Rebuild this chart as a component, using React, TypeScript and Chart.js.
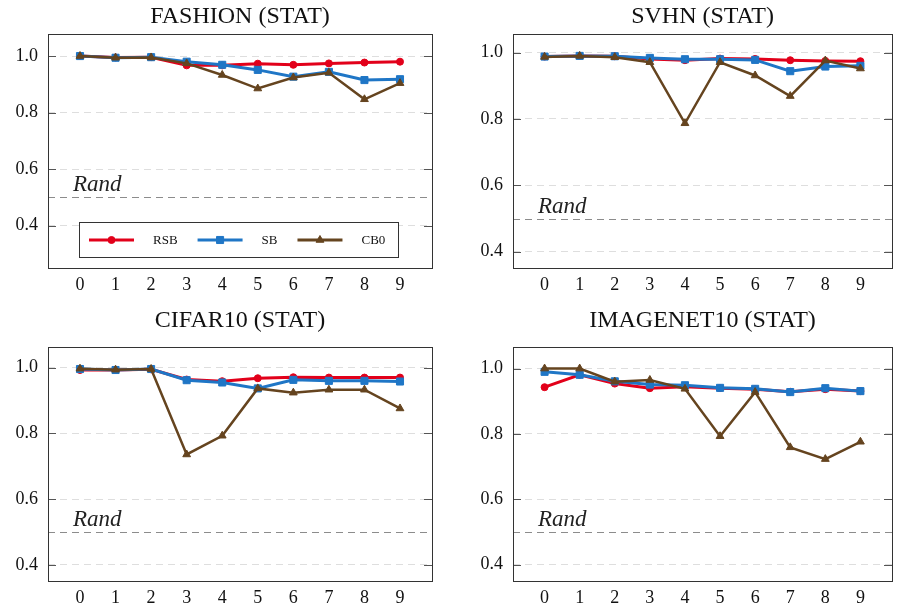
import { useEffect, useRef } from 'react';
import { Chart, registerables, Plugin } from 'chart.js';
import { drawPoint } from 'chart.js/helpers';

Chart.register(...registerables);

const FONT = '"Liberation Serif", "Times New Roman", serif';

// tick labels
const xTicks = [0, 1, 2, 3, 4, 5, 6, 7, 8, 9];
const yTicks = [0.4, 0.6, 0.8, 1.0];
const randLevel = 0.5;

const seriesNames = ['RSB', 'SB', 'CB0'];

// FASHION (STAT)
const fashionRSB = [1.0, 0.995, 0.996, 0.967, 0.967, 0.973, 0.969, 0.974, 0.977, 0.98];
const fashionSB = [1.0, 0.994, 0.996, 0.98, 0.969, 0.951, 0.927, 0.944, 0.915, 0.918];
const fashionCB0 = [1.0, 0.994, 0.995, 0.974, 0.933, 0.885, 0.924, 0.941, 0.847, 0.904];

// SVHN (STAT)
const svhnRSB = [0.988, 0.99, 0.989, 0.981, 0.977, 0.982, 0.981, 0.977, 0.975, 0.974];
const svhnSB = [0.988, 0.99, 0.989, 0.984, 0.98, 0.98, 0.978, 0.944, 0.958, 0.96];
const svhnCB0 = [0.987, 0.99, 0.986, 0.971, 0.787, 0.971, 0.931, 0.869, 0.976, 0.952];

// CIFAR10 (STAT)
const cifarRSB = [0.993, 0.993, 0.995, 0.964, 0.959, 0.968, 0.971, 0.97, 0.97, 0.97];
const cifarSB = [0.996, 0.993, 0.996, 0.962, 0.955, 0.937, 0.963, 0.96, 0.96, 0.958];
const cifarCB0 = [0.997, 0.994, 0.996, 0.736, 0.793, 0.937, 0.924, 0.933, 0.933, 0.876];

// IMAGENET10 (STAT)
const imagenetRSB = [0.943, 0.981, 0.954, 0.94, 0.944, 0.94, 0.937, 0.929, 0.937, 0.931];
const imagenetSB = [0.99, 0.981, 0.961, 0.951, 0.949, 0.941, 0.938, 0.928, 0.94, 0.931];
const imagenetCB0 = [1.0, 1.0, 0.96, 0.965, 0.938, 0.793, 0.928, 0.759, 0.723, 0.776];

const styles = [
  { color: '#e2001a', pointStyle: 'circle', radius: 3.5, width: 3, order: 3 },
  { color: '#1f76c6', pointStyle: 'rect', radius: 5, width: 3, order: 2 },
  { color: '#65441f', pointStyle: 'triangle', radius: 4.5, width: 2.5, order: 1 },
];

interface PanelDef {
  title: string;
  series: number[][];
  yMin: number;
  yMax: number;
  left: number;
  top: number;
  w: number;
  h: number;
  padTop: number;
  padRight: number;
  yAxisW: number;
  xAxisH: number;
  titleY: number;
  legend: boolean;
}

const panels: PanelDef[] = [
  { title: 'FASHION (STAT)', series: [fashionRSB, fashionSB, fashionCB0], yMin: 0.25, yMax: 1.078,
    left: 0, top: 0, w: 449, h: 300, padTop: 34, padRight: 17, yAxisW: 48, xAxisH: 32, titleY: 23, legend: true },
  { title: 'SVHN (STAT)', series: [svhnRSB, svhnSB, svhnCB0], yMin: 0.351, yMax: 1.056,
    left: 449, top: 0, w: 449, h: 300, padTop: 34, padRight: 2, yAxisW: 64, xAxisH: 32, titleY: 23, legend: false },
  { title: 'CIFAR10 (STAT)', series: [cifarRSB, cifarSB, cifarCB0], yMin: 0.351, yMax: 1.063,
    left: 0, top: 300, w: 449, h: 309, padTop: 47, padRight: 17, yAxisW: 48, xAxisH: 28, titleY: 27, legend: false },
  { title: 'IMAGENET10 (STAT)', series: [imagenetRSB, imagenetSB, imagenetCB0], yMin: 0.35, yMax: 1.066,
    left: 449, top: 300, w: 449, h: 309, padTop: 47, padRight: 2, yAxisW: 64, xAxisH: 28, titleY: 27, legend: false },
];

const framePlugin: Plugin = {
  id: 'frame',
  beforeDatasetsDraw(chart) {
    const { ctx, chartArea: a } = chart;
    const y = Math.round(chart.scales.y.getPixelForValue(randLevel)) + 0.5;
    ctx.save();
    ctx.strokeStyle = '#8c8c8c';
    ctx.lineWidth = 1;
    ctx.setLineDash([7, 5]);
    ctx.beginPath();
    ctx.moveTo(a.left, y);
    ctx.lineTo(a.right, y);
    ctx.stroke();
    ctx.setLineDash([]);
    ctx.font = `italic 23px ${FONT}`;
    ctx.fillStyle = '#222';
    ctx.textAlign = 'left';
    ctx.textBaseline = 'alphabetic';
    ctx.fillText('Rand', a.left + 25, y - 7);
    ctx.restore();
  },
  afterDraw(chart, _args, opts: any) {
    const { ctx, chartArea: a } = chart;
    ctx.save();
    // inner tick marks on both sides
    ctx.strokeStyle = '#555';
    ctx.lineWidth = 1;
    yTicks.forEach(v => {
      const py = Math.round(chart.scales.y.getPixelForValue(v)) + 0.5;
      ctx.beginPath();
      ctx.moveTo(a.left, py);
      ctx.lineTo(a.left + 8, py);
      ctx.moveTo(a.right - 8, py);
      ctx.lineTo(a.right, py);
      ctx.stroke();
    });
    // frame
    ctx.strokeStyle = '#333';
    ctx.strokeRect(Math.round(a.left) + 0.5, Math.round(a.top) + 0.5, Math.round(a.width), Math.round(a.height));
    // title
    ctx.font = `24px ${FONT}`;
    ctx.fillStyle = '#111';
    ctx.textAlign = 'center';
    ctx.textBaseline = 'alphabetic';
    ctx.fillText(opts.title, (a.left + a.right) / 2, opts.titleY);

    if (opts.legend) {
      const bx = Math.round(a.left) + 31;
      const by = Math.round(a.top) + 188;
      const bw = 319;
      const bh = 35;
      ctx.fillStyle = '#fff';
      ctx.fillRect(bx, by, bw, bh);
      ctx.strokeStyle = '#333';
      ctx.strokeRect(bx + 0.5, by + 0.5, bw, bh);
      const cy = by + bh / 2 + 0.5;
      ctx.font = `13px ${FONT}`;
      ctx.textAlign = 'left';
      ctx.textBaseline = 'middle';
      let x = bx + 10;
      chart.data.datasets.forEach((ds: any) => {
        ctx.strokeStyle = ds.borderColor;
        ctx.fillStyle = ds.borderColor;
        ctx.lineWidth = 3;
        ctx.beginPath();
        ctx.moveTo(x, cy);
        ctx.lineTo(x + 45, cy);
        ctx.stroke();
        ctx.lineWidth = 1;
        drawPoint(ctx, { pointStyle: ds.pointStyle, radius: ds.pointRadius, rotation: 0, borderWidth: 1 }, x + 22.5, cy);
        ctx.fillStyle = '#111';
        ctx.fillText(ds.label, x + 64, cy + 1);
        x += 64 + ctx.measureText(ds.label).width + 20;
      });
    }
    ctx.restore();
  },
};

function Panel({ p }: { p: PanelDef }) {
  const canvasRef = useRef<HTMLCanvasElement>(null);

  useEffect(() => {
    if (!canvasRef.current) return;
    const datasets = p.series.map((vals, i) => ({
      label: seriesNames[i],
      data: vals.map((v, j) => ({ x: xTicks[j], y: v })),
      borderColor: styles[i].color,
      backgroundColor: styles[i].color,
      pointBackgroundColor: styles[i].color,
      pointBorderColor: styles[i].color,
      pointStyle: styles[i].pointStyle,
      pointRadius: styles[i].radius,
      pointBorderWidth: 1,
      borderWidth: styles[i].width,
      order: styles[i].order,
      tension: 0,
      clip: false as any,
    }));

    const chart = new Chart(canvasRef.current, {
      type: 'line',
      data: { datasets },
      options: {
        animation: false,
        responsive: false,
        events: [],
        layout: { padding: { top: p.padTop, right: p.padRight, left: 0, bottom: 0 } },
        plugins: {
          legend: { display: false },
          tooltip: { enabled: false },
          title: { display: false },
          frame: { title: p.title, titleY: p.titleY, legend: p.legend },
        } as any,
        scales: {
          x: {
            type: 'linear',
            min: -0.9,
            max: 9.9,
            afterBuildTicks: (s: any) => { s.ticks = xTicks.map(v => ({ value: v })); },
            afterFit: (s: any) => { s.height = p.xAxisH; },
            grid: { display: false },
            border: { display: false },
            ticks: { color: '#111', font: { family: FONT, size: 18 }, padding: -2, maxRotation: 0, autoSkip: false },
          },
          y: {
            type: 'linear',
            min: p.yMin,
            max: p.yMax,
            afterBuildTicks: (s: any) => { s.ticks = yTicks.map(v => ({ value: v })); },
            afterFit: (s: any) => { s.width = p.yAxisW; },
            grid: { color: '#dedede', lineWidth: 1, drawTicks: false },
            border: { display: false, dash: [7, 5] },
            ticks: {
              color: '#111',
              font: { family: FONT, size: 18 },
              padding: 10,
              autoSkip: false,
              callback: (v: any) => Number(v).toFixed(1),
            },
          },
        },
      },
      plugins: [framePlugin],
    });

    return () => chart.destroy();
  }, [p]);

  return (
    <canvas
      ref={canvasRef}
      width={p.w}
      height={p.h}
      style={{ position: 'absolute', left: p.left, top: p.top, width: p.w, height: p.h }}
    />
  );
}

export default function App() {
  return (
    <div style={{ position: 'fixed', left: 0, top: 0, width: 898, height: 609, background: '#fff' }}>
      {panels.map(p => <Panel key={p.title} p={p} />)}
    </div>
  );
}
